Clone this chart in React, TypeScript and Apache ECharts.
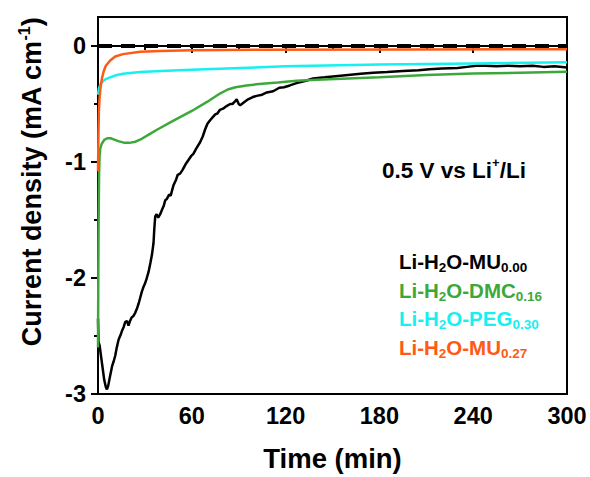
import React, { useEffect, useRef } from 'react';
import * as echarts from 'echarts';

// Time (min) and current density (mA cm^-1)
const blackT = [0, 0.3, 1, 2, 3, 4, 5, 5.7, 6.5, 7.8, 9, 10, 11, 12, 13.2, 14.5, 15.5, 16.5, 17.4, 18.5, 19.5, 20.5, 21.5, 22.5, 23.8, 25, 26, 27, 28, 29, 30, 31, 32.3, 33.5, 34.5, 35.5, 36, 36.6, 37.5, 38.5, 39.8, 41, 42, 43, 44, 45.5, 46.5, 48.3, 50, 51, 52.5, 54, 56, 58, 59.5, 61, 63, 65.3, 67, 68.5, 70, 71.7, 73, 75, 76.5, 78, 80, 82, 84.5, 86, 87.5, 88.7, 90, 91, 93, 96, 99, 101.5, 105, 108, 112, 116, 119, 122.7, 127, 133, 137.6, 145, 152, 160, 168, 176, 185, 195, 205, 212, 220, 230, 236, 242, 248, 255, 262, 270, 278, 285, 292, 300];
const blackV = [-2.35, -2.55, -2.58, -2.68, -2.78, -2.88, -2.94, -2.96, -2.93, -2.84, -2.76, -2.72, -2.67, -2.6, -2.53, -2.49, -2.45, -2.42, -2.38, -2.37, -2.41, -2.37, -2.34, -2.33, -2.3, -2.26, -2.22, -2.17, -2.12, -2.08, -2.05, -2.01, -1.95, -1.87, -1.8, -1.7, -1.58, -1.47, -1.45, -1.48, -1.45, -1.41, -1.38, -1.33, -1.32, -1.28, -1.29, -1.2, -1.15, -1.11, -1.1, -1.07, -1.02, -0.98, -0.95, -0.93, -0.88, -0.83, -0.78, -0.72, -0.67, -0.64, -0.62, -0.59, -0.58, -0.55, -0.54, -0.52, -0.5, -0.5, -0.48, -0.46, -0.5, -0.51, -0.49, -0.46, -0.44, -0.43, -0.42, -0.4, -0.39, -0.36, -0.355, -0.34, -0.32, -0.3, -0.28, -0.27, -0.26, -0.25, -0.24, -0.23, -0.225, -0.215, -0.21, -0.2, -0.195, -0.19, -0.18, -0.17, -0.17, -0.175, -0.17, -0.175, -0.17, -0.18, -0.175, -0.185];

const greenT = [0, 0.2, 0.4, 0.7, 1, 1.5, 2.5, 4, 6, 8, 10, 13, 17, 20, 24, 28, 33, 38, 48, 60, 70, 78, 83, 88, 95, 105, 115, 127, 140, 160, 180, 210, 240, 270, 300];
const greenV = [-2.6, -2.0, -1.5, -1.1, -0.95, -0.88, -0.84, -0.81, -0.795, -0.795, -0.805, -0.82, -0.835, -0.835, -0.825, -0.8, -0.76, -0.72, -0.645, -0.56, -0.48, -0.41, -0.375, -0.355, -0.34, -0.325, -0.315, -0.3, -0.29, -0.28, -0.27, -0.25, -0.238, -0.23, -0.222];

const cyanT = [0, 0.5, 1, 2, 3.5, 5, 7.8, 12, 16, 27, 40, 60, 91, 120, 180, 240, 300];
const cyanV = [-0.42, -0.37, -0.35, -0.32, -0.3, -0.285, -0.27, -0.25, -0.24, -0.225, -0.215, -0.205, -0.19, -0.175, -0.16, -0.15, -0.14];

const orangeT = [0, 0.3, 0.6, 1, 1.5, 2.5, 3.6, 5, 7.8, 11, 16, 27, 40, 60, 100, 200, 300];
const orangeV = [-1.08, -0.75, -0.55, -0.45, -0.37, -0.28, -0.22, -0.17, -0.125, -0.09, -0.07, -0.05, -0.043, -0.037, -0.033, -0.03, -0.028];

const refT = [0, 300];
const refV = [0, 0];

const xTicks = [0, 60, 120, 180, 240, 300];
const yTicks = [-3, -2, -1, 0];
const yMinorTicks = [-2.5, -1.5, -0.5];

const legendBase = ['MU', 'DMC', 'PEG', 'MU'];
const legendSub = ['0.00', '0.16', '0.30', '0.27'];
const seriesColors = ['#000000', '#3DA83A', '#16F0F0', '#FF5A14'];

const FONT = '"Liberation Sans", Arial, Helvetica, sans-serif';

const pairs = (t: number[], v: number[]) => t.map((x, i) => [x, v[i]]);

export default function App() {
  const ref = useRef<HTMLDivElement>(null);
  useEffect(() => {
    const chart = echarts.init(ref.current!, null, { renderer: 'svg' });
    const lineSeries = (data: number[][], color: string, width = 2.5) => ({
      type: 'line',
      data,
      showSymbol: false,
      symbol: 'none',
      lineStyle: { color, width },
    });
    const legendGraphics = legendBase.map((b, i) => ({
      type: 'text',
      left: 399,
      top: 251 + i * 28.5,
      style: {
        text: `{m|Li-H}{s|2}{m|O-${b}}{s|${legendSub[i]}}`,
        fill: seriesColors[i],
        rich: {
          m: { fontSize: 20.5, fontWeight: 'bold', fontFamily: FONT, lineHeight: 26, fill: seriesColors[i] },
          s: { fontSize: 13.5, fontWeight: 'bold', fontFamily: FONT, lineHeight: 13, verticalAlign: 'bottom', fill: seriesColors[i] },
        },
      },
    }));
    chart.setOption({
      animation: false,
      backgroundColor: '#ffffff',
      grid: { left: 98, right: 23, top: 17, bottom: 82, show: true, borderColor: '#000', borderWidth: 2, backgroundColor: 'transparent' },
      xAxis: [{
        type: 'value', min: 0, max: 300, interval: 60,
        axisLine: { show: true, lineStyle: { color: '#000', width: 2 } },
        axisTick: { show: true, inside: false, length: 7, lineStyle: { color: '#000', width: 2 } },
        minorTick: { show: true, splitNumber: 2, length: 4, lineStyle: { color: '#000', width: 2 } },
        splitLine: { show: false },
        minorSplitLine: { show: false },
        axisLabel: { color: '#000', fontSize: 23.5, fontWeight: 'bold', fontFamily: FONT, margin: 10,
          customValues: xTicks },
        name: 'Time (min)', nameLocation: 'middle', nameGap: 50,
        nameTextStyle: { color: '#000', fontSize: 27.5, fontWeight: 'bold', fontFamily: FONT },
      }],
      yAxis: [{
        type: 'value', min: -3, max: 0.25,
        axisLine: { show: true, lineStyle: { color: '#000', width: 2 } },
        axisTick: { show: true, inside: false, length: 7, lineStyle: { color: '#000', width: 2 }, customValues: yTicks },
        splitLine: { show: false },
        axisLabel: { color: '#000', fontSize: 23.5, fontWeight: 'bold', fontFamily: FONT, margin: 12, customValues: yTicks },
      }, {
        type: 'value', min: -3, max: 0.25, position: 'left',
        axisLine: { show: false },
        axisTick: { show: true, inside: false, length: 4, lineStyle: { color: '#000', width: 2 }, customValues: yMinorTicks },
        splitLine: { show: false },
        axisLabel: { show: false, customValues: yMinorTicks },
      }],
      series: [
        lineSeries(pairs(blackT, blackV), seriesColors[0]),
        lineSeries(pairs(greenT, greenV), seriesColors[1]),
        lineSeries(pairs(cyanT, cyanV), seriesColors[2]),
        lineSeries(pairs(orangeT, orangeV), seriesColors[3]),
        {
          type: 'line', data: pairs(refT, refV), showSymbol: false, symbol: 'none', z: 10,
          lineStyle: { color: '#000', width: 4, type: [14, 9] },
        },
      ],
      graphic: [
        {
          type: 'text', x: 32, y: 182, rotation: Math.PI / 2,
          style: {
            text: '{m|Current density (mA cm}{p|-1}{m|)}',
            align: 'center', verticalAlign: 'middle', fill: '#000',
            rich: {
              m: { fontSize: 27, fontWeight: 'bold', fontFamily: FONT, lineHeight: 32, fill: '#000' },
              p: { fontSize: 16, fontWeight: 'bold', fontFamily: FONT, lineHeight: 16, verticalAlign: 'top', fill: '#000' },
            },
          },
        },
        {
          type: 'text', left: 382, top: 156,
          style: {
            text: '{m|0.5 V vs Li}{p|+}{m|/Li}',
            fill: '#000',
            rich: {
              m: { fontSize: 22.5, fontWeight: 'bold', fontFamily: FONT, lineHeight: 28, fill: '#000' },
              p: { fontSize: 13, fontWeight: 'bold', fontFamily: FONT, lineHeight: 13, verticalAlign: 'top', fill: '#000' },
            },
          },
        },
        ...legendGraphics,
      ],
    });
    return () => chart.dispose();
  }, []);
  return <div ref={ref} style={{ position: 'fixed', left: 0, top: 0, width: 590, height: 477 }} />;
}
